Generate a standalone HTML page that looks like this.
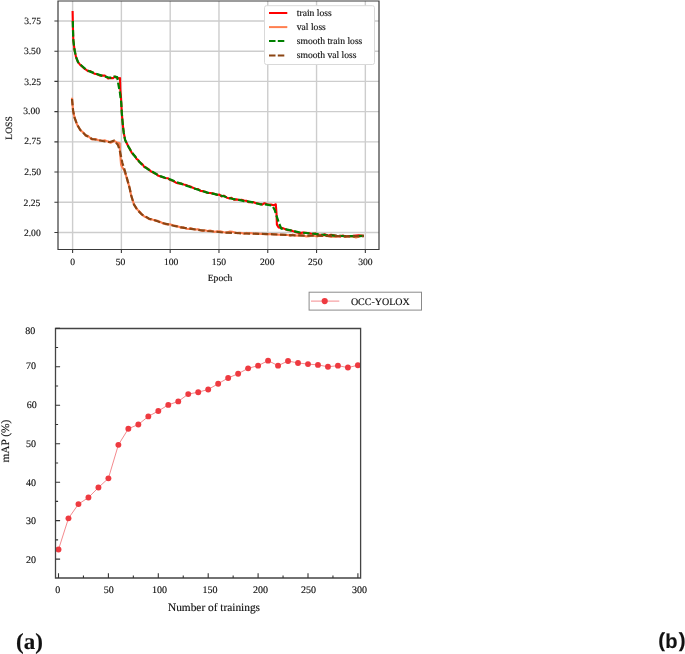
<!DOCTYPE html><html><head><meta charset="utf-8"><style>html,body{margin:0;padding:0;background:#fff;}#wrap{will-change:transform;width:685px;height:654px;}svg{display:block;}text{font-family:"Liberation Serif",serif;fill:#111;stroke:#111;stroke-width:0.15px;text-rendering:geometricPrecision;}</style></head><body>
<div id="wrap">
<svg width="685" height="654" viewBox="0 0 685 654">
<rect x="0" y="0" width="685" height="654" fill="#fff"/>
<path d="M72.6 1V249.5M121.39 1V249.5M170.18 1V249.5M218.97 1V249.5M267.76 1V249.5M316.55 1V249.5M365.34 1V249.5M58 21H379M58 51.21H379M58 81.42H379M58 111.63H379M58 141.84H379M58 172.05H379M58 202.26H379M58 232.47H379" stroke="#cdcdcd" stroke-width="1.4" fill="none"/>
<g fill="none" stroke-linejoin="round">
<polyline points="72.6,11 72.65,13.5 72.7,16 72.75,18.5 72.8,21 72.85,23.25 72.9,25.5 72.95,27.75 73,30 73.08,32.5 73.15,35 73.22,37.5 73.3,40 73.6,42.45 73.9,44.9 74.2,47.35 74.5,49.8 75,52.2 75.5,54.6 76,57 77,59.5 78,62.17 80,64.64 82,66.41 84,68.32 86,69.74 88,71.09 90,70.94 92.33,72.35 94.67,73.82 97,74.21 100,75.61 103,75.56 105,75.66 108.1,78.45 110.5,77.86 113,78.3 115.1,76.52 116.3,77.8 119.1,78.19 120,78.1 120.06,80.38 120.12,82.66 120.18,84.94 120.24,87.22 120.3,89.5 120.6,92.55 120.9,95.6 121.03,97.95 121.15,100.3 121.28,102.65 121.4,105 121.53,107.67 121.67,110.33 121.8,113 122,115.33 122.2,117.67 122.4,120 122.63,122.5 122.87,125 123.1,127.5 123.45,130.25 123.8,133 124.23,135.3 124.67,137.6 125.1,139.9 127,143.8 128.5,146.8 130.05,149.4 131.6,152.58 133.3,154.62 135,156.02 136.5,158.82 138,159.79 139.5,162.11 141,163.08 142.7,164.45 144.4,167.22 146.2,167.59 148,168.9 151.3,171.58 153.65,172.97 156,173.71 158.45,175.85 160.9,176.45 165,178.05 167.75,178.24 170.5,180.12 173.25,181.02 176,182.65 178.8,183.5 181.6,183.62 183.73,184.51 185.87,185.03 188,185.8 190.43,186.52 192.87,187.69 195.3,188.94 198.15,189.1 201,191.05 203.2,191.17 205.4,191.73 207.6,193.05 210.07,193.07 212.53,193.34 215,194.07 217.2,194.94 219.4,194.58 221.6,196.42 223.8,195.63 226.4,197.45 229,198.38 231.5,197.88 234,199.6 236.5,199.36 239,200.01 241.6,199.81 244.2,200.47 246.6,200.9 249,202.24 253,201.98 255.5,203 258,203.6 262.2,204.6 264.5,203.2 267,204.2 271,204.6 273.8,205.2 275.8,204.3 275.98,206.62 276.15,208.95 276.32,211.28 276.5,213.6 276.58,215.8 276.66,218 276.74,220.2 276.82,222.4 276.9,224.6 278.6,227.4 281,227.9 283.4,228.4 285.45,229.25 287.5,230.1 289.95,230.3 292.4,230.86 296,232.2 300,233.12 303,232.48 306,232.7 309.2,233.33 312.4,234.09 315.2,233.4 318,234.55 320.27,234.85 322.53,235.17 324.8,234.25 327.9,235.72 331,234.73 334.1,235.38 337.2,236.06 340.1,236.39 343,235.48 345.2,236.46 347.4,236.1 349.6,235.94 352.8,235.84 356,235.55 358.63,235.38 361.27,235.44 363.9,235.9" stroke="#ff0000" stroke-width="2.1"/>
<polyline points="72,97.8 72.3,102.1 72.57,104.97 72.83,107.83 73.1,110.7 73.75,113.9 74.4,117.1 75.3,119.6 76.2,122.1 77.1,124.6 78.7,127.3 80.3,129.95 82.1,131.59 83.9,133.03 85.7,135.81 87.83,135.84 89.97,137.77 92.1,139.56 95.3,138.96 98.5,140.18 101.75,140.71 105,140.36 107.75,141.53 110.5,142.68 114.2,140.93 116.95,142.47 119.7,143.3 119.8,145.7 119.9,148.1 120,150.5 120.1,152.9 120.3,155.3 120.5,157.7 120.7,160.1 120.9,162.5 121.1,164.9 122,166.72 124.3,170.4 125.2,173.13 126.1,175.87 127,178.6 127.7,181.12 128.4,183.65 129.1,186.17 129.8,188.7 130.4,191.75 131,194.8 131.72,197.18 132.45,199.55 133.18,201.93 133.9,204.3 135.1,206.23 136.3,208.17 137.5,209.73 139.7,211.76 141.9,214.51 144.33,216.49 146.77,217.43 149.2,219.08 152.1,219.34 155,220.64 157.95,220.89 160.9,222.31 163.27,223.44 165.63,224.12 168,224.29 170.5,224.42 173,225.27 175.5,225.79 178.33,226.43 181.17,227.7 184,227.38 186.25,228.67 188.5,228.98 190.75,228.15 193,228.93 195.33,229.46 197.67,229.17 200,230.09 202.53,231.04 205.07,230.19 207.6,231.14 210.07,230.57 212.53,231.31 215,231.85 217.5,231.23 220,231.31 223.8,232.22 226.9,232.56 230,231.52 232.3,231.72 234.6,232.4 236.9,233.09 239.33,232.72 241.77,233.02 244.2,233.69 246.47,232.9 248.73,233.55 251,232.94 253.6,233.69 256.2,233.67 258.8,233.8 261.2,233.9 263.6,234 266,234.1 268.47,234.13 270.93,234.17 273.4,234.2 275.6,234.4 277.8,234.6 280,234.8 282.67,234.87 285.33,234.93 288,235 290.33,235.77 292.67,234.64 295,235.48 297.53,235.65 300.07,235.11 302.6,235.38 305.8,236.34 309,236.3 312,235.12 315,235.99 317.45,236.38 319.9,235.43 322.35,236.01 324.8,235.26 327.9,235.96 331,236.64 334.1,236.43 337.2,236.58 340.1,235.67 343,236.09 345.2,236.88 347.4,236.55 349.6,236.43 352.8,236.51 356,237.48 358.63,236.7 361.27,235.73 363.9,236.2" stroke="#ff7f50" stroke-width="2.1"/>
<polyline points="72.8,21 72.8,21 73,30 73.3,40 74.5,49.8 76,57 78,62 80,64.3 82,66 86,69.4 90,71.6 97,74 103,76.1 105,76.6 108,77.3 111.1,77.8 114.2,76.6 117.2,77.2 118.1,82.7 119.1,88.2 120,93.1 121.2,102.3 121.8,113 122.4,120 123.1,127.5 123.8,133 125.1,139.9 127,143.8 128.5,146.8 131.6,152 135,156.5 138,160.3 141,163.6 144.4,166.7 148,169.3 151.3,170.9 156,174 160.9,176.4 165,177.8 170.5,179.5 176,182 181.6,183.9 188,186.3 195.3,188.8 201,190.8 207.6,192.6 215,194.1 223.8,196.3 229,197.9 234,199.2 239,199.9 244.2,201.1 249,201.6 253,202.4 260,204.3 266.9,204.6 272.4,205.7 274.8,210.1 276.2,215 277.9,219.8 279.3,223.9 281.3,228.7 286.2,229.4 292.4,230.8 296,231.6 300,232.5 306,233 312.4,233.7 318,234.2 324.8,234.9 331,235.3 337.2,235.9 343,236 349.6,236.2 356,236.1 363.9,235.9" stroke="#008000" stroke-width="2.2" stroke-dasharray="6.5 2.6"/>
<polyline points="72,99 72.3,102.1 73.1,110.7 74.4,117.1 77.1,124.6 80.3,130 85.7,135.3 92.1,139 98.5,140.1 105,141.5 110,142 114.2,140.6 117.8,144.7 119.7,150.2 122.4,163 124.7,170.4 127,178.6 129.8,188.7 131,194.8 133.9,204.3 137.5,210.1 141.9,214.5 149.2,218.7 155,220.3 160.9,222.6 168,224.4 175.5,226.2 184,227.8 193,229.1 200,230.2 207.6,231 215,231.6 223.8,232.6 236.9,233 244.2,233.5 258.8,233.8 273.4,234.3 288,235 302.6,235.6 315,235.7 324.8,235.9 337.2,236.2 349.6,236.4 363.9,236.2" stroke="#8b4513" stroke-width="2.2" stroke-dasharray="6.5 2.6"/>
</g>
<path d="M58 1V249.5H379V1Z" stroke="#3a3a3a" stroke-width="1.2" fill="none"/>
<path d="M72.6 249.5v3.6M121.39 249.5v3.6M170.18 249.5v3.6M218.97 249.5v3.6M267.76 249.5v3.6M316.55 249.5v3.6M365.34 249.5v3.6M58 21h-3.6M58 51.21h-3.6M58 81.42h-3.6M58 111.63h-3.6M58 141.84h-3.6M58 172.05h-3.6M58 202.26h-3.6M58 232.47h-3.6" stroke="#3a3a3a" stroke-width="1.1" fill="none"/>
<text x="41.1" y="24.4" font-size="9.6" text-anchor="end">3.75</text>
<text x="40.7" y="54.2" font-size="9.6" text-anchor="end">3.50</text>
<text x="41.1" y="84.6" font-size="9.6" text-anchor="end">3.25</text>
<text x="40.1" y="113.9" font-size="9.6" text-anchor="end">3.00</text>
<text x="41.1" y="144.4" font-size="9.6" text-anchor="end">2.75</text>
<text x="41.1" y="175" font-size="9.6" text-anchor="end">2.50</text>
<text x="40.4" y="206" font-size="9.6" text-anchor="end">2.25</text>
<text x="40.7" y="236.2" font-size="9.6" text-anchor="end">2.00</text>
<text x="72.6" y="265" font-size="9.6" text-anchor="middle">0</text>
<text x="120.59" y="265" font-size="9.6" text-anchor="middle">50</text>
<text x="171.18" y="265" font-size="9.6" text-anchor="middle">100</text>
<text x="218.97" y="265" font-size="9.6" text-anchor="middle">150</text>
<text x="267.26" y="265" font-size="9.6" text-anchor="middle">200</text>
<text x="315.25" y="265" font-size="9.6" text-anchor="middle">250</text>
<text x="365.34" y="265" font-size="9.6" text-anchor="middle">300</text>
<text x="220" y="281" font-size="9.6" text-anchor="middle">Epoch</text>
<text transform="translate(12.2 128) rotate(-90)" x="0" y="0" font-size="9.6" text-anchor="middle">LOSS</text>
<rect x="264.5" y="5.7" width="110" height="58.8" rx="2" ry="2" fill="#fff" stroke="#d9d9d9" stroke-width="1"/>
<path d="M269 13.0H287.3" stroke="#ff0000" stroke-width="2"/>
<path d="M269 27.1H287.3" stroke="#ff7f50" stroke-width="2"/>
<path d="M269 41.1H284.4" stroke="#008000" stroke-width="2" stroke-dasharray="6.5 2.3"/>
<path d="M269 55.4H284.4" stroke="#8b4513" stroke-width="2" stroke-dasharray="6.5 2.3"/>
<text x="296.8" y="16.1" font-size="9.6">train loss</text>
<text x="296.8" y="30.35" font-size="9.6">val loss</text>
<text x="296.8" y="44" font-size="9.6">smooth train loss</text>
<text x="296.8" y="57.9" font-size="9.6">smooth val loss</text>
<polyline points="58.5,549.49 68.48,518.33 78.46,504.1 88.44,497.56 98.42,487.56 108.4,478.33 118.38,444.87 128.36,428.72 138.34,424.49 148.32,416.41 158.3,411.03 168.28,404.88 178.26,401.41 188.24,394.11 198.22,392.18 208.2,389.49 218.18,383.72 228.16,377.95 238.14,373.72 248.12,368.34 258.1,365.65 268.08,360.65 278.06,365.65 288.04,361.03 298.02,362.95 308,364.11 317.98,364.88 327.96,366.8 337.94,365.65 347.92,367.57 357.9,365.26" fill="none" stroke="#f48a8e" stroke-width="1"/>
<circle cx="58.5" cy="549.49" r="2.95" fill="#ee3a40"/>
<circle cx="68.48" cy="518.33" r="2.95" fill="#ee3a40"/>
<circle cx="78.46" cy="504.1" r="2.95" fill="#ee3a40"/>
<circle cx="88.44" cy="497.56" r="2.95" fill="#ee3a40"/>
<circle cx="98.42" cy="487.56" r="2.95" fill="#ee3a40"/>
<circle cx="108.4" cy="478.33" r="2.95" fill="#ee3a40"/>
<circle cx="118.38" cy="444.87" r="2.95" fill="#ee3a40"/>
<circle cx="128.36" cy="428.72" r="2.95" fill="#ee3a40"/>
<circle cx="138.34" cy="424.49" r="2.95" fill="#ee3a40"/>
<circle cx="148.32" cy="416.41" r="2.95" fill="#ee3a40"/>
<circle cx="158.3" cy="411.03" r="2.95" fill="#ee3a40"/>
<circle cx="168.28" cy="404.88" r="2.95" fill="#ee3a40"/>
<circle cx="178.26" cy="401.41" r="2.95" fill="#ee3a40"/>
<circle cx="188.24" cy="394.11" r="2.95" fill="#ee3a40"/>
<circle cx="198.22" cy="392.18" r="2.95" fill="#ee3a40"/>
<circle cx="208.2" cy="389.49" r="2.95" fill="#ee3a40"/>
<circle cx="218.18" cy="383.72" r="2.95" fill="#ee3a40"/>
<circle cx="228.16" cy="377.95" r="2.95" fill="#ee3a40"/>
<circle cx="238.14" cy="373.72" r="2.95" fill="#ee3a40"/>
<circle cx="248.12" cy="368.34" r="2.95" fill="#ee3a40"/>
<circle cx="258.1" cy="365.65" r="2.95" fill="#ee3a40"/>
<circle cx="268.08" cy="360.65" r="2.95" fill="#ee3a40"/>
<circle cx="278.06" cy="365.65" r="2.95" fill="#ee3a40"/>
<circle cx="288.04" cy="361.03" r="2.95" fill="#ee3a40"/>
<circle cx="298.02" cy="362.95" r="2.95" fill="#ee3a40"/>
<circle cx="308" cy="364.11" r="2.95" fill="#ee3a40"/>
<circle cx="317.98" cy="364.88" r="2.95" fill="#ee3a40"/>
<circle cx="327.96" cy="366.8" r="2.95" fill="#ee3a40"/>
<circle cx="337.94" cy="365.65" r="2.95" fill="#ee3a40"/>
<circle cx="347.92" cy="367.57" r="2.95" fill="#ee3a40"/>
<circle cx="357.9" cy="365.26" r="2.95" fill="#ee3a40"/>
<path d="M55.5 328.5V578H360.6V328.5Z" stroke="#444" stroke-width="1.3" fill="none"/>
<path d="M58.5 578v-4.8M108.4 578v-4.8M158.3 578v-4.8M208.2 578v-4.8M258.1 578v-4.8M308 578v-4.8M357.9 578v-4.8M83.45 578v-2.6M133.35 578v-2.6M183.25 578v-2.6M233.15 578v-2.6M283.05 578v-2.6M332.95 578v-2.6M55.5 559.1h4.6M55.5 520.64h4.6M55.5 482.18h4.6M55.5 443.72h4.6M55.5 405.26h4.6M55.5 366.8h4.6M55.5 328.34h4.6M55.5 539.87h2.6M55.5 501.41h2.6M55.5 462.95h2.6M55.5 424.49h2.6M55.5 386.03h2.6M55.5 347.57h2.6" stroke="#333" stroke-width="1.1" fill="none"/>
<text x="35.9" y="562.6" font-size="10" text-anchor="end">20</text>
<text x="35.9" y="524.14" font-size="10" text-anchor="end">30</text>
<text x="35.9" y="485.68" font-size="10" text-anchor="end">40</text>
<text x="35.9" y="447.22" font-size="10" text-anchor="end">50</text>
<text x="36.8" y="408.36" font-size="10" text-anchor="end">60</text>
<text x="35.9" y="369.3" font-size="10" text-anchor="end">70</text>
<text x="35.3" y="333.64" font-size="10" text-anchor="end">80</text>
<text x="57.8" y="593" font-size="10" text-anchor="middle">0</text>
<text x="108.8" y="593" font-size="10" text-anchor="middle">50</text>
<text x="159.4" y="593" font-size="10" text-anchor="middle">100</text>
<text x="210" y="593" font-size="10" text-anchor="middle">150</text>
<text x="260.4" y="593" font-size="10" text-anchor="middle">200</text>
<text x="308.4" y="593" font-size="10" text-anchor="middle">250</text>
<text x="359.4" y="593" font-size="10" text-anchor="middle">300</text>
<text x="168" y="610.5" font-size="11.35">Number of trainings</text>
<text transform="translate(9.1 441.2) rotate(-90)" x="0" y="0" font-size="11.35" text-anchor="middle">mAP (%)</text>
<rect x="309.1" y="292.2" width="112.4" height="17.9" fill="#fff" stroke="#8a8a8a" stroke-width="1"/>
<path d="M311 301.1H339.3" stroke="#f48a8e" stroke-width="1"/>
<circle cx="324.7" cy="301.1" r="3.1" fill="#ee3a40"/>
<text x="350.9" y="304.9" font-size="10">OCC-YOLOX</text>
<text x="16" y="648.9" font-size="23" font-weight="bold">(a)</text>
<g style="font-family:'Liberation Sans',sans-serif" font-weight="bold"><text x="658.2" y="647.1" font-size="20.5" style="font-family:'Liberation Sans',sans-serif">(</text><text x="665.3" y="648.3" font-size="20.1" style="font-family:'Liberation Sans',sans-serif">b</text><text x="678.7" y="647.1" font-size="20.5" style="font-family:'Liberation Sans',sans-serif">)</text></g>
</svg></div></body></html>
